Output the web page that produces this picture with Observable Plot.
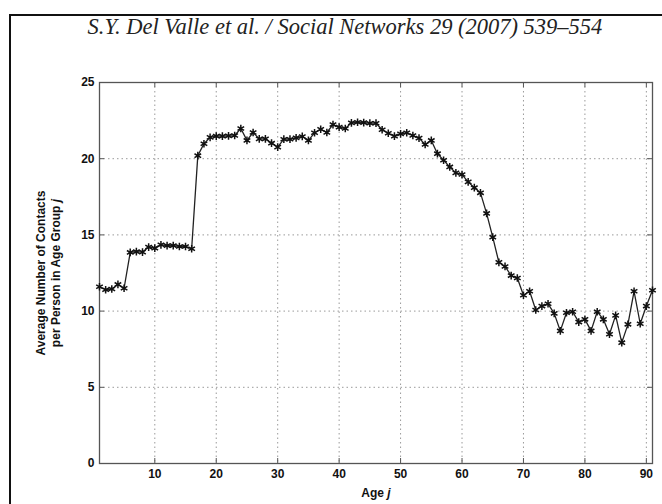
<!DOCTYPE html>
<html><head><meta charset="utf-8">
<script src="https://cdn.jsdelivr.net/npm/d3@7"></script>
<script src="https://cdn.jsdelivr.net/npm/@observablehq/plot@0.6"></script>
<style>
body{margin:0;background:#fff;}
#wrap{position:relative;width:662px;height:504px;overflow:hidden;background:#fff;}
#border{position:absolute;left:9px;top:14px;width:720px;height:620px;border:2px solid #111;box-sizing:border-box;}
#title{position:absolute;left:14px;top:16px;width:662px;text-align:center;font-family:"Liberation Serif","Times New Roman",serif;font-style:italic;font-size:22.5px;line-height:22px;color:#222;white-space:nowrap;}
#chart{position:absolute;left:0;top:60px;}
</style>
</head><body>
<div id="wrap">
  <div id="chart"></div>
  <div id="border"></div>
  <div id="title">S.Y. Del Valle et al. / Social Networks 29 (2007) 539–554</div>
</div>
<script>
const ages = [1,2,3,4,5,6,7,8,9,10,11,12,13,14,15,16,17,18,19,20,21,22,23,24,25,26,27,28,29,30,
  31,32,33,34,35,36,37,38,39,40,41,42,43,44,45,46,47,48,49,50,51,52,53,54,55,56,57,58,59,60,
  61,62,63,64,65,66,67,68,69,70,71,72,73,74,75,76,77,78,79,80,81,82,83,84,85,86,87,88,89,90,91];
const contacts = [11.6,11.4,11.45,11.75,11.5,13.85,13.9,13.87,14.2,14.13,
  14.35,14.3,14.3,14.24,14.24,14.09,20.2,20.98,21.4,21.48,
  21.48,21.5,21.52,21.98,21.2,21.72,21.3,21.3,21.02,20.76,
  21.28,21.28,21.37,21.46,21.2,21.7,21.93,21.72,22.24,22.07,
  21.98,22.35,22.39,22.37,22.33,22.33,21.9,21.67,21.48,21.63,
  21.7,21.52,21.35,20.93,21.2,20.33,19.9,19.46,19.07,18.96,
  18.48,18.1,17.76,16.41,14.85,13.2,12.93,12.33,12.17,11.04,
  11.3,10.07,10.33,10.48,9.85,8.7,9.89,9.96,9.28,9.46,
  8.7,9.96,9.46,8.48,9.72,7.93,9.13,11.3,9.17,10.33,11.37];
const xTicks = [10,20,30,40,50,60,70,80,90];
const yTicks = [0,5,10,15,20,25];
const xLabel = "Age j";
const yLabel = "Average Number of Contacts\nper Person in Age Group j";

const data = ages.map((a, i) => ({age: a, contacts: contacts[i]}));

const W = 662, H = 444, mL = 99, mR = 10, mT = 22, mB = 41;
const plotW = W - mL - mR, plotH = H - mT - mB, tick = 5;
const axisColor = "#555";

const chart = Plot.plot({
  width: W, height: H,
  marginLeft: mL, marginRight: mR, marginTop: mT, marginBottom: mB,
  x: {domain: [1, 91]},
  y: {domain: [0, 25]},
  style: {fontFamily: "'Liberation Sans', Arial, sans-serif", fontSize: "12px", fontWeight: "bold", color: "#111", background: "transparent"},
  marks: [
    Plot.gridX(xTicks, {stroke: "#9a9a9a", strokeOpacity: 1, strokeDasharray: "1.5,3"}),
    Plot.gridY(yTicks, {stroke: "#9a9a9a", strokeOpacity: 1, strokeDasharray: "1.5,3"}),
    Plot.ruleX(xTicks, {x: d => d, insetTop: plotH - tick, stroke: axisColor}),
    Plot.ruleX(xTicks, {x: d => d, insetBottom: plotH - tick, stroke: axisColor}),
    Plot.ruleY(yTicks, {y: d => d, insetRight: plotW - tick, stroke: axisColor}),
    Plot.ruleY(yTicks, {y: d => d, insetLeft: plotW - tick, stroke: axisColor}),
    Plot.frame({stroke: axisColor, strokeWidth: 1.3}),
    Plot.axisX(xTicks, {tickSize: 0, tickPadding: 6, label: null}),
    Plot.axisY(yTicks, {tickSize: 0, tickPadding: 5, label: null}),
    Plot.line(data, {x: "age", y: "contacts", stroke: "#222", strokeWidth: 1.3}),
    Plot.dot(data, {x: "age", y: "contacts", symbol: "asterisk", r: 3.6, stroke: "#111", strokeWidth: 1.5}),
    Plot.text([xLabel], {text: d => d, frameAnchor: "bottom", dy: 30, lineAnchor: "middle", textAnchor: "middle", fontWeight: "bold", fontSize: 12, fill: "#111"}),
    Plot.text([yLabel], {text: d => d, frameAnchor: "left", rotate: -90, dx: -51.5, lineAnchor: "middle", textAnchor: "middle", lineHeight: 1.25, fontWeight: "bold", fontSize: 12, fill: "#111"})
  ]
});

chart.querySelectorAll("text, tspan").forEach(el => {
  if (el.children.length === 0 && /\sj$/.test(el.textContent)) {
    const t = el.textContent;
    el.textContent = t.slice(0, -1);
    const ts = document.createElementNS("http://www.w3.org/2000/svg", "tspan");
    ts.setAttribute("font-style", "italic");
    ts.textContent = "j";
    el.appendChild(ts);
  }
});

document.getElementById("chart").appendChild(chart);
</script>
</body></html>
